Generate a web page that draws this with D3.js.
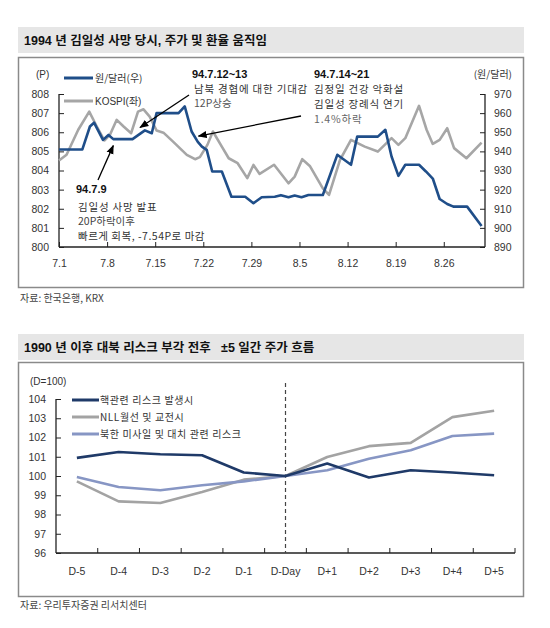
<!DOCTYPE html>
<html><head><meta charset="utf-8">
<script src="https://cdn.jsdelivr.net/npm/d3@7"></script>
<style>
body{margin:0;background:#fff;}
text{font-family:"Liberation Sans","Noto Sans CJK KR",sans-serif;white-space:pre;}
.kr{font-family:"Noto Sans CJK KR","Liberation Sans",sans-serif;}
</style></head>
<body><svg id="c" width="550" height="628"></svg>
<script>
// ---------- Chart 1 data ----------
const dateTicks = [0,7,14,21,28,35,42,49,56];
const dateLabels = ["7.1","7.8","7.15","7.22","7.29","8.5","8.12","8.19","8.26"];
const wonDays = [0,3.4,4.5,5.1,6.4,7.2,7.9,10.7,12.5,13.5,14.2,17.4,18.3,19.3,20.2,20.8,21.5,22.3,23.7,25.1,27.1,28.3,29.5,31.4,32.3,33.4,34.3,35.3,36.3,38.4,40.5,42.5,43.4,46.4,47.5,48.4,49.4,50.4,52.4,53.4,54.4,55.4,56.5,57.4,59.4,61.5];
const wonValues = [941,941,953,955,946,948.6,946.4,946.4,951,949.5,960,960,963.5,950.4,945,942.5,940.8,929.5,929.5,916.3,916.3,912.9,916,916.3,917.1,916,916.9,916,917.2,917.2,938.2,933,947.7,947.7,951.3,937.3,927.2,933,933,929.5,925.8,915.1,912.5,911.1,911.1,901];
const kospiDays = [0,1.1,2.8,4.4,5.5,6.6,7.4,8.4,9.4,10.5,11.5,12.3,13.2,14.2,15.2,16.6,18.6,19.8,20.5,21.6,22.4,23.7,24.7,26.0,27.4,28.3,29.2,31.3,33.4,34.3,35.4,36.5,38.4,39.3,40.9,42.5,44.5,46.4,48.4,49.4,50.4,52.4,53.5,54.4,55.4,56.5,57.5,59.3,61.5];
const kospiValues = [804.52,804.82,806.13,807.08,806.3,805.57,805.86,806.65,806.3,805.95,807.08,807.2,806.82,806.09,805.98,805.51,804.82,804.59,804.7,805.34,806.04,805.25,804.64,804.38,803.6,804.29,803.82,804.3,803.33,803.68,804.59,804.24,803.07,802.72,804.55,805.6,805.25,804.99,805.69,805.34,805.69,807.38,806.13,805.39,805.6,806.21,805.17,804.64,805.46];
const leftTicks = [800,801,802,803,804,805,806,807,808];
const rightTicks = [890,900,910,920,930,940,950,960,970];

// ---------- Chart 2 data ----------
const cats2 = ["D-5","D-4","D-3","D-2","D-1","D-Day","D+1","D+2","D+3","D+4","D+5"];
const nuclear = [100.94,101.25,101.13,101.08,100.18,100.0,100.65,99.92,100.3,100.18,100.04];
const nll = [99.72,98.68,98.6,99.17,99.81,100.0,100.99,101.55,101.72,103.06,103.39];
const missile = [99.95,99.43,99.26,99.52,99.72,100.0,100.3,100.9,101.34,102.08,102.2];
const ticks2 = [96,97,98,99,100,101,102,103,104];
const legend2 = ["핵관련 리스크 발생시","NLL월선 및 교전시","북한 미사일 및 대치 관련 리스크"];

const svg = d3.select("#c");
const defs = svg.append("defs");
defs.append("marker").attr("id","ah").attr("viewBox","0 0 10 10").attr("refX",9).attr("refY",5)
  .attr("markerWidth",7).attr("markerHeight",7).attr("orient","auto-start-reverse")
  .append("path").attr("d","M0,1 L10,5 L0,9 z").attr("fill","#000");

// ===== Panel 1 =====
svg.append("rect").attr("x",18).attr("y",27).attr("width",506).attr("height",26).attr("fill","#e6e6e6");
svg.append("text").attr("x",24).attr("y",45).attr("font-size",12.5).attr("font-weight","bold").attr("fill","#111")
  .text("1994 년 김일성 사망 당시, 주가 및 환율 움직임");
svg.append("rect").attr("x",18.5).attr("y",57.5).attr("width",505).attr("height",230).attr("fill","none").attr("stroke","#8a8a8a").attr("stroke-width",1.5);

const x1 = d3.scaleLinear().domain([0,62]).range([59,485]);
const yL = d3.scaleLinear().domain([800,808]).range([247,94]);
const yR = d3.scaleLinear().domain([890,970]).range([247,94]);

const g1 = svg.append("g");
const axL = d3.axisLeft(yL).tickValues(leftTicks).tickSize(-5).tickPadding(10).tickFormat(d3.format("d"));
const gl = g1.append("g").attr("transform","translate(59,0)").call(axL);
const axR = d3.axisRight(yR).tickValues(rightTicks).tickSize(-5).tickPadding(9).tickFormat(d3.format("d"));
const gr = g1.append("g").attr("transform","translate(485,0)").call(axR);
const axB = d3.axisBottom(x1).tickValues(dateTicks).tickSize(-5).tickPadding(13).tickFormat((d,i)=>dateLabels[i]);
const gb = g1.append("g").attr("transform","translate(0,247)").call(axB);
[gl,gr,gb].forEach(g=>{
  g.select(".domain").attr("stroke","#222").attr("stroke-width",1.3);
  g.selectAll(".tick line").attr("stroke","#222");
  g.selectAll(".tick text").attr("font-size",10.5).attr("fill","#333").attr("font-family","Liberation Sans");
});
gb.select(".domain").attr("d","M59,0H485");
gl.select(".domain").attr("d","M0,94V247");
gr.select(".domain").attr("d","M0,94V247");

g1.append("text").attr("x",36).attr("y",78).attr("font-size",10).attr("fill","#333").text("(P)");
g1.append("text").attr("x",512).attr("y",78).attr("text-anchor","end").attr("font-size",10).attr("fill","#333").attr("class","kr").text("(원/달러)");

const lineK = d3.line().x((d,i)=>x1(kospiDays[i])).y(d=>yL(d));
const lineW = d3.line().x((d,i)=>x1(wonDays[i])).y(d=>yR(d));
g1.append("path").attr("d",lineK(kospiValues)).attr("fill","none").attr("stroke","#a6a6a6").attr("stroke-width",2.6).attr("stroke-linejoin","round");
g1.append("path").attr("d",lineW(wonValues)).attr("fill","none").attr("stroke","#1f4e89").attr("stroke-width",2.6).attr("stroke-linejoin","round");

g1.append("line").attr("x1",64).attr("x2",93).attr("y1",78).attr("y2",78).attr("stroke","#1f4e89").attr("stroke-width",3);
g1.append("text").attr("x",95).attr("y",82).attr("font-size",10).attr("fill","#333").attr("class","kr").text("원/달러(우)");
g1.append("line").attr("x1",64).attr("x2",93).attr("y1",101).attr("y2",101).attr("stroke","#a6a6a6").attr("stroke-width",3);
g1.append("text").attr("x",95).attr("y",105).attr("font-size",10).attr("fill","#333").text("KOSPI(좌)");

function txt(x,y,s,opt={}){
  return g1.append("text").attr("x",x).attr("y",y).attr("font-size",opt.size||10.5).attr("fill",opt.fill||"#333")
   .attr("font-weight",opt.bold?"bold":"normal").attr("class",opt.bold?null:"kr").attr("letter-spacing",opt.ls||0).text(s);
}
txt(192,78,"94.7.12~13",{bold:true,fill:"#111",size:11});
txt(194,93,"남북 경협에 대한 기대감",{ls:0.8});
txt(194,107,"12P상승",{fill:"#555"});
txt(314,78,"94.7.14~21",{bold:true,fill:"#111",size:11});
txt(314,93,"김정일 건강 악화설",{ls:0.8});
txt(314,108,"김일성 장례식 연기",{ls:0.8});
txt(314,123,"1.4%하락",{fill:"#666",ls:0.8});
txt(76,193,"94.7.9",{bold:true,fill:"#111",size:11});
txt(78,211,"김일성 사망 발표",{ls:0.8});
txt(78,225,"20P하락이후",{fill:"#444"});
txt(78,240,"빠르게 회복, -7.54P로 마감",{ls:0.5});

function arrow(xa,ya,xb,yb){
  g1.append("line").attr("x1",xa).attr("y1",ya).attr("x2",xb).attr("y2",yb)
    .attr("stroke","#000").attr("stroke-width",1.3).attr("marker-end","url(#ah)");
}
arrow(189,95,x1(11.8),yL(806.25));
arrow(301,116,x1(20.3),yL(805.8));
arrow(98,180,x1(7.9),yL(805.3));

svg.append("text").attr("x",20).attr("y",302).attr("font-size",10).attr("fill","#444").attr("class","kr").text("자료: 한국은행, KRX");

// ===== Panel 2 =====
svg.append("rect").attr("x",18).attr("y",334).attr("width",506).attr("height",26).attr("fill","#e6e6e6");
svg.append("text").attr("x",24).attr("y",352).attr("font-size",12.5).attr("font-weight","bold").attr("fill","#111")
  .text("1990 년 이후 대북 리스크 부각 전후   ±5 일간 주가 흐름");
svg.append("rect").attr("x",18.5).attr("y",362.5).attr("width",505).attr("height",234).attr("fill","none").attr("stroke","#8a8a8a").attr("stroke-width",1.5);

const x2 = d3.scaleBand().domain(cats2).range([56,515]);
const y2 = d3.scaleLinear().domain([96,104]).range([553,399]);
const g2 = svg.append("g");
const ax2L = d3.axisLeft(y2).tickValues(ticks2).tickSize(-5).tickPadding(10).tickFormat(d3.format("d"));
const g2l = g2.append("g").attr("transform","translate(56,0)").call(ax2L);
const ax2B = d3.axisBottom(x2).tickSize(0).tickPadding(15);
const g2b = g2.append("g").attr("transform","translate(0,553)").call(ax2B);
[g2l,g2b].forEach(g=>{
  g.select(".domain").attr("stroke","#222").attr("stroke-width",1.3);
  g.selectAll(".tick line").attr("stroke","#222");
  g.selectAll(".tick text").attr("font-size",10.5).attr("fill","#333");
});
g2l.select(".domain").attr("d","M0,399V553");
g2b.select(".domain").attr("d","M56,0H515");
g2.selectAll("line.bt").data(cats2.slice(1)).join("line").attr("class","bt")
  .attr("x1",d=>x2(d)).attr("x2",d=>x2(d)).attr("y1",553).attr("y2",548).attr("stroke","#222");
g2.append("line").attr("x1",515).attr("x2",515).attr("y1",553).attr("y2",548).attr("stroke","#222");

g2.append("text").attr("x",30).attr("y",385).attr("font-size",10).attr("fill","#333").text("(D=100)");

const cx = d=>x2(d)+x2.bandwidth()/2;
g2.append("line").attr("x1",cx("D-Day")).attr("x2",cx("D-Day")).attr("y1",383).attr("y2",553)
  .attr("stroke","#444").attr("stroke-width",1.2).attr("stroke-dasharray","4,3");

const line2 = d3.line().x((d,i)=>cx(cats2[i])).y(d=>y2(d));
const series2 = [[nuclear,"#1f3a68"],[nll,"#a3a3a3"],[missile,"#8796c4"]];
[series2[1],series2[2],series2[0]].forEach(([vals,col])=>{
  g2.append("path").attr("d",line2(vals)).attr("fill","none").attr("stroke",col).attr("stroke-width",2.6).attr("stroke-linejoin","round");
});
const legY = [400,417,434];
series2.forEach(([vals,col],i)=>{
  g2.append("line").attr("x1",72).attr("x2",99).attr("y1",legY[i]).attr("y2",legY[i]).attr("stroke",col).attr("stroke-width",3);
  g2.append("text").attr("x",100).attr("y",legY[i]+4).attr("font-size",10).attr("fill","#333").attr("class","kr").attr("letter-spacing",0.6).text(legend2[i]);
});

svg.append("text").attr("x",20).attr("y",609).attr("font-size",10).attr("fill","#444").attr("class","kr").text("자료: 우리투자증권 리서치센터");
</script></body></html>
